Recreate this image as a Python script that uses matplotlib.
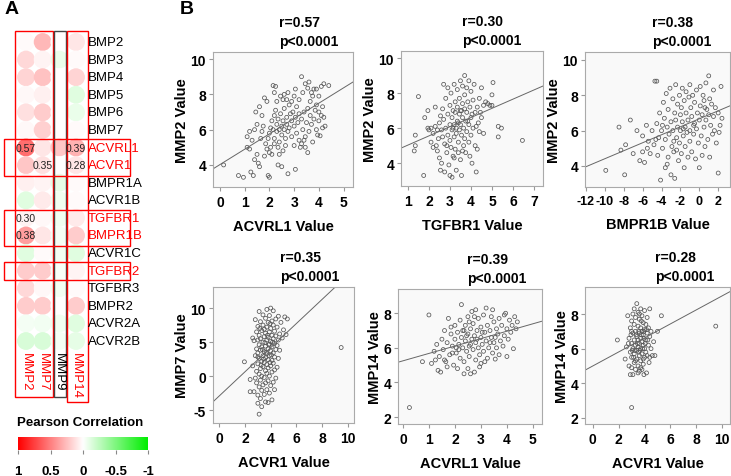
import numpy as np
import matplotlib
matplotlib.use("Agg")
import matplotlib.pyplot as plt
from matplotlib.colors import LinearSegmentedColormap
from matplotlib.patches import Rectangle

plt.rcParams['font.family'] = ['Liberation Sans', 'DejaVu Sans']
plt.rcParams['font.weight'] = 'bold'
plt.rcParams['axes.labelweight'] = 'bold'
plt.rcParams['axes.unicode_minus'] = False

# ---------------- panel A data ----------------
genes = ['BMP2', 'BMP3', 'BMP4', 'BMP5', 'BMP6', 'BMP7', 'ACVRL1', 'ACVR1',
         'BMPR1A', 'ACVR1B', 'TGFBR1', 'BMPR1B', 'ACVR1C', 'TGFBR2', 'TGFBR3',
         'BMPR2', 'ACVR2A', 'ACVR2B']
red_genes = ['ACVRL1', 'ACVR1', 'TGFBR1', 'BMPR1B', 'TGFBR2']
mmps = ['MMP2', 'MMP7', 'MMP9', 'MMP14']
mmp_colors = ['red', 'red', 'black', 'red']
corr_mmp2 = [0.02, 0.15, 0.17, 0.03, 0.12, 0.03, 0.57, 0.22, 0.06, -0.12,
             0.05, 0.38, -0.12, 0.20, 0.15, 0.20, -0.04, -0.15]
corr_mmp7 = [0.28, 0.04, 0.24, 0.06, 0.20, 0.18, 0.10, 0.12, 0.04, 0.08,
             0.03, 0.10, 0.02, 0.20, 0.03, 0.20, -0.05, -0.15]
corr_mmp9 = [0.00, -0.08, 0.00, 0.00, 0.00, 0.00, 0.22, 0.00, -0.10, -0.06,
             -0.06, -0.04, -0.05, -0.03, -0.05, 0.00, -0.06, -0.04]
corr_mmp14 = [0.10, 0.02, 0.17, -0.12, -0.08, 0.02, 0.30, 0.10, 0.02, 0.02,
              0.08, 0.20, -0.12, 0.04, 0.02, 0.20, -0.12, -0.10]
# annotated values: (gene, mmp, text)
annot = [('ACVRL1', 'MMP2', '0.57'), ('ACVR1', 'MMP7', '0.35'),
         ('ACVRL1', 'MMP14', '0.39'), ('ACVR1', 'MMP14', '0.28'),
         ('TGFBR1', 'MMP2', '0.30'), ('BMPR1B', 'MMP2', '0.38')]

# ---------------- panel B data ----------------
p1_x = [0.15, 0.75, 0.95, 1.25, 1.35, 1.6, 1.55, 1.4, 1.95, 2.0, 2.35, 2.75, 3.05, 2.5, 1.8, 1.5, 1.2, 1.1,
        1.1, 1.2, 1.3, 1.4, 1.5, 1.45, 1.6, 1.7, 1.8, 1.9, 1.65, 1.7, 1.75, 1.85, 1.9, 1.95, 2.0, 2.05, 2.1,
        2.0, 2.05, 2.1, 2.15, 2.2, 2.2, 2.25, 2.3, 2.3, 2.35, 2.4, 2.4, 2.45, 2.5, 2.5, 2.55, 2.6, 2.6, 2.65,
        2.7, 2.7, 2.75, 2.8, 2.8, 2.85, 2.9, 2.9, 2.95, 3.0, 3.0, 3.05, 3.1, 3.1, 3.15, 3.2, 3.2, 2.2, 2.35,
        2.55, 2.65, 2.4,
        2.15, 2.25, 2.2, 2.3, 2.45, 2.55, 2.6, 2.75, 2.7, 2.9, 3.0, 3.05, 3.2, 3.3, 3.35, 3.45, 3.6, 3.55,
        3.7, 3.8, 3.9, 4.0, 4.2, 4.4, 4.1, 3.65, 3.75, 3.9, 4.0, 4.15,
        3.3, 3.35, 3.4, 3.45, 3.5, 3.55, 3.6, 3.65, 3.7, 3.75, 3.8, 3.85, 3.9, 3.95, 4.0, 4.05, 4.1, 4.15,
        4.2, 4.25, 3.3, 3.45, 3.55, 3.4, 3.25]
p1_y = [4.0, 3.4, 3.3, 3.6, 3.4, 3.9, 4.1, 4.3, 3.4, 3.3, 4.0, 3.5, 3.75, 3.9, 4.5, 4.6, 4.9, 5.0,
        5.6, 5.9, 5.4, 6.0, 6.3, 7.0, 7.3, 6.8, 7.8, 7.6, 5.5, 5.9, 6.2, 5.2, 4.9, 5.5, 4.7, 5.0, 4.6,
        5.8, 6.1, 6.5, 6.0, 5.5, 6.8, 7.1, 6.3, 5.9, 6.6, 6.0, 5.3, 6.9, 6.2, 5.7, 6.5, 7.2, 6.0, 5.5,
        6.7, 6.3, 5.9, 7.4, 6.1, 6.9, 5.6, 6.5, 7.0, 6.2, 5.1, 6.7, 5.8, 7.3, 6.4, 5.4, 6.9, 5.2, 5.0,
        4.8, 5.1, 4.6,
        8.5, 8.45, 8.1, 7.6, 7.9, 7.7, 8.0, 8.1, 7.7, 7.6, 7.9, 8.3, 7.7, 9.0, 8.1, 8.6, 8.7, 8.35,
        8.1, 8.3, 8.3, 7.9, 8.6, 8.5, 8.45, 7.6, 7.9, 7.4, 7.0, 7.3,
        6.6, 6.0, 7.0, 5.6, 6.4, 7.2, 5.9, 6.8, 6.3, 5.3, 6.6, 7.1, 6.0, 5.7, 6.5, 5.65, 6.8, 6.1,
        6.7, 6.2, 5.2, 5.0, 4.7, 5.4, 5.0]

p2_x = [1.3, 1.35, 1.35, 1.5, 1.75, 1.8, 1.95, 1.95, 2.0, 2.1, 2.2, 2.3, 2.35, 2.4, 2.45, 2.5, 2.5, 2.55,
        2.6, 2.6, 2.65, 2.7, 2.7, 2.75, 2.75, 2.8, 2.8, 2.85, 2.9, 2.9, 2.9, 2.95, 3.0, 3.0, 3.0, 3.0,
        3.05, 3.05, 3.1, 3.1, 3.1, 3.15, 3.15, 3.2, 3.2, 3.2, 3.25, 3.25, 3.25, 3.3, 3.3, 3.3, 3.35, 3.35,
        3.35, 3.4, 3.4, 3.45, 3.45, 3.45, 3.5, 3.5, 3.5, 3.5, 3.55, 3.55, 3.6, 3.6, 3.6, 3.65, 3.65, 3.7,
        3.7, 3.7, 3.7, 3.75, 3.75, 3.8, 3.8, 3.8, 3.85, 3.9, 3.9, 3.9, 3.95, 3.95, 4.0, 4.0, 4.0, 4.05,
        4.1, 4.1, 4.15, 4.2, 4.2, 4.25, 4.3, 4.3, 4.35, 4.4, 4.4, 4.5, 4.5, 4.6, 4.6, 4.7, 4.8, 4.9, 5.0,
        5.05, 5.0, 5.3, 5.3, 5.45, 6.45, 2.2, 2.4, 2.55, 2.65, 2.85, 3.15, 3.4, 3.55, 3.85, 4.05, 4.25,
        4.45, 2.1, 2.3, 3.2, 3.6]
p2_y = [4.7, 5.0, 5.6, 7.8, 3.3, 6.6, 7.0, 6.0, 5.9, 5.2, 5.7, 6.1, 5.0, 4.7, 5.4, 6.3, 4.3, 3.6,
        4.0, 5.9, 7.1, 8.5, 6.5, 5.1, 3.5, 7.7, 6.0, 4.6, 8.3, 6.8, 5.6, 3.9, 7.3, 6.2, 5.3, 3.3,
        8.0, 4.9, 6.6, 5.9, 3.2, 7.0, 4.4, 8.5, 6.2, 5.5, 7.5, 6.9, 4.8, 6.0, 5.7, 3.6, 8.2, 7.2,
        6.4, 5.2, 4.6, 7.7, 6.8, 5.9, 8.7, 7.0, 6.2, 4.2, 5.6, 3.3, 8.4, 7.4, 6.6, 6.0, 5.0, 9.0,
        7.9, 7.1, 5.4, 6.4, 4.6, 8.3, 6.9, 5.8, 7.5, 8.7, 6.2, 5.2, 7.2, 4.4, 8.1, 6.6, 5.6, 4.0,
        7.6, 6.0, 8.5, 6.9, 5.0, 3.5, 7.2, 4.8, 6.3, 7.7, 5.8, 8.3, 6.6, 7.3, 5.7, 7.5, 7.4, 7.3, 7.9,
        8.6, 7.3, 6.1, 5.5, 6.0, 5.3, 4.9, 5.9, 6.7, 5.5, 5.0, 6.0, 6.3, 7.0, 6.4, 6.8, 6.1,
        6.9, 6.0, 7.2, 4.3, 4.7]

p3_x = [-9.9, -8.5, -8.3, -7.8, -7.9, -7.3, -7.0, -6.6, -6.3, -6.0, -5.8, -5.6, -5.4, -5.2, -5.0, -4.8,
        -4.7, -4.5, -4.5, -4.4, -4.3, -4.2, -4.1, -4.0, -3.9, -3.8, -3.7, -3.6, -3.6, -3.5, -3.4, -3.3,
        -3.3, -3.2, -3.1, -3.0, -3.0, -2.9, -2.8, -2.8, -2.7, -2.6, -2.6, -2.5, -2.5, -2.4, -2.3, -2.3,
        -2.2, -2.1, -2.1, -2.0, -2.0, -1.9, -1.9, -1.8, -1.8, -1.7, -1.6, -1.6, -1.5, -1.5, -1.4, -1.4,
        -1.3, -1.2, -1.2, -1.1, -1.0, -1.0, -1.0, -0.9, -0.8, -0.8, -0.7, -0.6, -0.5, -0.5, -0.4, -0.3,
        -0.3, -0.2, -0.1, 0.0, 0.0, 0.1, 0.1, 0.2, 0.3, 0.3, 0.4, 0.5, 0.5, 0.6, 0.7, 0.7, 0.8, 0.9,
        1.0, 1.0, 1.1, 1.1, 1.2, 1.3, 1.4, 1.5, 1.5, 1.6, 1.7, 1.8, 2.0, 2.0, 2.1, 2.3, 2.4, 2.2,
        -6.0, -5.5, -4.6, -3.9, -2.7, -1.7, -0.6, 0.6, -3.4, -2.4]
p3_y = [3.75, 6.2, 4.9, 5.2, 3.5, 6.6, 4.7, 6.0, 4.3, 5.7, 4.2, 6.3, 5.4, 4.7, 6.0, 5.2,
        8.8, 8.8, 6.4, 4.6, 5.6, 7.0, 3.2, 6.0, 5.0, 7.6, 6.7, 3.9, 5.5, 8.1, 6.2, 4.5,
        7.2, 5.8, 8.4, 6.5, 3.5, 5.1, 7.8, 6.0, 4.8, 7.0, 3.3, 8.6, 6.6, 5.6, 7.5, 6.2,
        4.3, 8.0, 5.3, 6.9, 6.0, 7.3, 4.7, 8.4, 6.5, 5.7, 7.7, 3.9, 6.2, 5.1, 8.2, 7.0,
        5.9, 6.6, 4.5, 7.9, 8.6, 6.0, 5.4, 7.3, 4.8, 6.8, 8.0, 5.8, 6.4, 7.6, 4.4, 8.3,
        6.1, 7.0, 5.3, 3.9, 6.6, 8.5, 7.4, 5.7, 6.9, 4.6, 8.0, 6.2, 7.7, 5.1, 8.7, 6.6, 7.2, 5.5,
        9.1, 6.9, 7.8, 4.5, 6.3, 7.5, 5.8, 8.3, 6.8, 6.0, 7.3, 5.3, 3.6, 7.0, 5.9, 8.5, 6.7, 6.3,
        4.8, 5.0, 5.5, 6.3, 5.4, 6.1, 6.3, 7.3, 4.1, 4.9]

p4_x = [1.95, 9.5, 2.4, 2.4, 2.6, 2.7, 2.7, 2.8, 2.8, 2.9, 2.9, 2.9, 2.9, 3.0, 3.0, 3.0, 3.0, 3.0, 3.0,
        3.1, 3.1, 3.1, 3.1, 3.1, 3.1, 3.1, 3.2, 3.2, 3.2, 3.2, 3.2, 3.2, 3.3, 3.3, 3.3, 3.3, 3.3, 3.3,
        3.4, 3.4, 3.4, 3.4, 3.4, 3.4, 3.5, 3.5, 3.5, 3.5, 3.5, 3.5, 3.6, 3.6, 3.6, 3.6, 3.6, 3.6, 3.6,
        3.7, 3.7, 3.7, 3.7, 3.7, 3.7, 3.7, 3.8, 3.8, 3.8, 3.8, 3.8, 3.8, 3.8, 3.9, 3.9, 3.9, 3.9, 3.9,
        3.9, 4.0, 4.0, 4.0, 4.0, 4.0, 4.0, 4.1, 4.1, 4.1, 4.1, 4.1, 4.1, 4.2, 4.2, 4.2, 4.2, 4.2, 4.2,
        4.3, 4.3, 4.3, 4.3, 4.3, 4.4, 4.4, 4.4, 4.4, 4.5, 4.5, 4.5, 4.6, 4.6, 4.6, 4.7, 4.7, 4.8, 4.9,
        5.0, 5.1, 5.3, 5.2, 3.35, 3.55, 3.75, 3.95, 4.05, 3.45, 3.65, 3.85, 4.15, 3.25, 3.15, 3.95, 2.8,
        3.0, 2.6]
p4_y = [2.1, 4.2, -0.5, -2.3, 1.5, -2.3, 5.2, 3.0, 8.3, -1.0, 0.7, 4.0, 6.5, -4.0, -2.8, 1.8, 3.4, 5.3, 7.3,
        -5.6, -1.6, 0.3, 2.6, 4.6, 6.0, 9.5, -3.3, -0.6, 1.1, 3.8, 5.5, 8.0, -2.1, 0.0, 2.2, 4.3, 6.7, -4.5,
        -1.3, 1.4, 3.0, 5.0, 7.5, 9.0, -2.7, -0.2, 2.0, 3.6, 5.8, 6.9, -3.8, -1.0, 0.8, 2.7, 4.4, 6.3, 8.5,
        -2.0, 0.4, 1.7, 3.3, 5.3, 7.2, 9.8, -3.9, -0.7, 1.2, 2.4, 4.0, 5.7, 7.9, -2.5, 0.0, 3.0, 4.7, 6.5,
        8.9, -1.4, 1.5, 3.7, 5.1, 7.0, 10.0, -3.5, 0.6, 2.3, 4.3, 6.0, 8.1, -0.9, 1.9, 3.4, 5.5, 7.5, 9.6,
        -2.0, 0.9, 2.8, 4.8, 6.6, -0.3, 3.9, 5.9, 8.4, 1.3, 4.5, 7.2, 2.6, 5.3, 8.8, 6.2, 3.8, 7.9, 5.6,
        6.8, 8.7, 8.4, 6.1, 3.9, 4.9, 6.0, 2.0, 3.1, 2.5, 3.5, 4.6, 5.0, 1.6, 7.0, 7.7, -0.3,
        2.8, 5.6]

p5_x = [0.25, 1.0, 0.75, 1.1, 1.2, 1.3, 1.35, 1.45, 1.4, 1.5, 1.55, 1.6, 1.65, 1.7, 1.75, 1.8, 1.85, 1.9,
        1.95, 2.0, 2.0, 2.05, 2.1, 2.1, 2.15, 2.2, 2.2, 2.25, 2.25, 2.3, 2.3, 2.35, 2.35, 2.4, 2.4, 2.45,
        2.5, 2.5, 2.5, 2.55, 2.55, 2.6, 2.6, 2.65, 2.65, 2.7, 2.7, 2.75, 2.75, 2.8, 2.8, 2.8, 2.85, 2.9,
        2.9, 2.95, 3.0, 3.0, 3.0, 3.05, 3.1, 3.1, 3.15, 3.2, 3.2, 3.25, 3.25, 3.3, 3.35, 3.4, 3.45, 3.45,
        3.5, 3.5, 3.55, 3.6, 3.6, 3.65, 3.7, 3.75, 3.8, 3.85, 3.9, 3.9, 3.95, 4.0, 4.0, 4.05, 4.1, 4.15,
        4.2, 4.25, 4.3, 4.35, 4.4, 1.6, 1.9, 2.15, 2.45, 2.6, 2.85, 3.05, 3.35, 3.55, 1.25, 1.7, 2.05,
        2.35, 2.75, 3.15, 3.7, 2.55, 1.85, 2.95, 3.4]
p5_y = [2.55, 7.9, 5.2, 5.1, 5.8, 6.2, 4.7, 4.6, 5.5, 6.5, 5.9, 7.0, 5.2, 6.3, 7.7, 5.6, 6.8, 6.1,
        5.0, 7.3, 6.5, 5.7, 6.9, 4.8, 6.2, 7.6, 5.4, 8.5, 6.6, 7.0, 6.0, 4.5, 5.2, 7.3, 6.4, 5.8,
        7.8, 6.8, 4.8, 6.1, 5.5, 7.1, 4.5, 6.5, 8.1, 5.9, 7.4, 6.7, 4.6, 8.2, 6.3, 5.3, 7.0, 6.0,
        7.7, 5.6, 6.6, 7.2, 5.1, 6.2, 7.9, 5.8, 6.9, 8.3, 6.4, 7.3, 5.4, 6.0, 7.0, 6.6, 8.2, 5.7,
        7.5, 6.3, 5.35, 7.1, 6.0, 6.8, 7.7, 6.4, 7.3, 6.1, 7.9, 6.7, 8.0, 5.5, 7.1, 6.5, 7.6, 6.9,
        7.3, 5.95, 7.8, 7.1, 7.5, 5.3, 5.7, 5.9, 6.7, 6.2, 6.5, 6.9, 6.3, 6.6, 5.3, 4.9, 6.0,
        7.0, 7.8, 5.2, 5.6, 7.5, 7.2, 4.9, 7.8]

p6_x = [1.9, 9.5, 3.0, 2.5, 2.6, 2.7, 2.8, 2.8, 2.9, 2.9, 2.9, 3.0, 3.0, 3.0, 3.0, 3.1, 3.1, 3.1, 3.1,
        3.2, 3.2, 3.2, 3.2, 3.3, 3.3, 3.3, 3.3, 3.4, 3.4, 3.4, 3.4, 3.5, 3.5, 3.5, 3.5, 3.5, 3.6, 3.6,
        3.6, 3.6, 3.6, 3.7, 3.7, 3.7, 3.7, 3.7, 3.8, 3.8, 3.8, 3.8, 3.8, 3.9, 3.9, 3.9, 3.9, 3.95, 4.0,
        4.0, 4.0, 4.0, 4.1, 4.1, 4.1, 4.15, 4.2, 4.2, 4.2, 4.3, 4.3, 4.4, 4.4, 4.4, 4.5, 4.5, 4.6, 4.7,
        4.8, 5.0, 5.3, 3.25, 3.45, 3.55, 3.65, 3.75, 3.85, 3.95, 4.05, 4.25, 3.15, 3.35, 3.55, 3.75,
        3.95, 4.15, 2.95, 3.05, 3.3, 3.5, 3.7, 3.9, 4.35, 2.75, 3.0, 3.6, 3.2]
p6_y = [6.5, 7.3, 2.6, 5.4, 6.1, 7.9, 5.0, 6.6, 4.5, 5.8, 7.2, 4.9, 6.3, 7.6, 5.5, 4.5, 6.0, 6.9, 8.0,
        5.2, 5.7, 6.5, 7.4, 4.8, 6.2, 7.0, 7.8, 5.4, 5.9, 6.7, 8.6, 5.0, 6.1, 6.5, 7.3, 8.1, 4.7, 5.6,
        6.3, 6.9, 7.7, 5.3, 6.0, 6.6, 7.2, 8.3, 4.8, 5.7, 6.4, 7.0, 7.9, 5.1, 6.2, 6.8, 7.5, 4.5, 5.5,
        6.0, 7.1, 8.2, 5.8, 6.5, 7.4, 4.6, 5.6, 6.9, 7.8, 6.2, 7.2, 5.5, 6.7, 8.3, 6.0, 7.0, 5.6, 6.4,
        5.6, 7.0, 7.9, 5.9, 6.3, 7.0, 5.9, 6.8, 6.0, 6.6, 6.3, 6.5, 5.5, 6.8, 5.8, 7.6,
        7.0, 7.1, 6.8, 5.9, 5.3, 4.6, 4.9, 5.4, 5.2, 6.3, 7.0, 8.0, 8.3]

# fitted lines: intercept, slope
fit_b = [4.02, 4.51, 6.67, -2.9, 5.25, 5.0]
fit_m = [0.87, 0.524, 0.226, 1.77, 0.428, 0.405]
r_vals = ['0.57', '0.30', '0.38', '0.35', '0.39', '0.28']
x_labels = ['ACVRL1 Value', 'TGFBR1 Value', 'BMPR1B Value', 'ACVR1 Value', 'ACVRL1 Value', 'ACVR1 Value']
y_labels = ['MMP2 Value', 'MMP2 Value', 'MMP2 Value', 'MMP7 Value', 'MMP14 Value', 'MMP14 Value']
xs = [p1_x, p2_x, p3_x, p4_x, p5_x, p6_x]
ys = [p1_y, p2_y, p3_y, p4_y, p5_y, p6_y]

W, H = 731, 477
fig = plt.figure(figsize=(W / 100, H / 100), dpi=100)


def px_axes(l, t, r, b):
    return fig.add_axes([l / W, 1 - b / H, (r - l) / W, (b - t) / H])


# ---------------- panel A ----------------
cmap = LinearSegmentedColormap.from_list('rwg', ['#00ee00', '#ffffff', '#ff0000'])
axh = px_axes(17.65, 34.2, 84.35, 350.8)
axh.set_xlim(-0.5, 3.5)
axh.set_ylim(17.5, -0.5)
axh.axis('off')
corr = np.array([corr_mmp2, corr_mmp7, corr_mmp9, corr_mmp14]).T
cc, rr = np.meshgrid(np.arange(len(mmps)), np.arange(len(genes)))
axh.scatter(cc.ravel(), rr.ravel(), s=165, c=corr.ravel(), cmap=cmap,
            vmin=-1, vmax=1, linewidths=0, clip_on=False)
for g, m, t in annot:
    axh.text(mmps.index(m), genes.index(g), t, ha='center', va='center',
             fontsize=7.5, fontweight='normal', color='#222222')
for i, g in enumerate(genes):
    axh.text(3.72, i, g, ha='left', va='center', fontsize=9.5, fontweight='normal',
             color='red' if g in red_genes else 'black', clip_on=False)
for j, m in enumerate(mmps):
    axh.text(j, 17.6, m, ha='center', va='top', rotation=-90, fontsize=9.5,
             fontweight='normal', color=mmp_colors[j], clip_on=False)
boxes = [(-0.66, -0.62, 1.62, 20.2, 'red'), (1.68, -0.62, 2.4, 20.2, '#444444'),
         (2.46, -0.62, 3.72, 20.45, 'red'),
         (-1.32, 5.5, 6.25, 7.6, 'red'), (-1.32, 9.55, 6.25, 11.6, 'red'),
         (-1.32, 12.5, 6.25, 13.53, 'red')]
for x0, y0, x1, y1, col in boxes:
    axh.add_patch(Rectangle((x0, y0), x1 - x0, y1 - y0, fill=False, ec=col,
                            lw=1.0, clip_on=False))

fig.text(17 / W, 1 - 423 / H, 'Pearson Correlation', ha='left', va='center', fontsize=9.5)
axc = px_axes(18, 438, 148, 451)
grad = np.linspace(1, -1, 256)[None, :]
axc.imshow(grad, aspect='auto', cmap=cmap, vmin=-1, vmax=1, extent=[1, -1, 0, 1])
axc.set_xlim(1, -1)
axc.set_yticks([])
axc.set_xticks([1, 0.5, 0, -0.5, -1])
axc.set_xticklabels(['1', '0.5', '0', '-0.5', '-1'], fontsize=9.5, fontweight='bold')
axc.tick_params(axis='x', length=3, pad=8, color='#888888')
for s in axc.spines.values():
    s.set_visible(False)

fig.text(5 / W, 1 - 10 / H, 'A', fontsize=14, fontweight='bold', ha='left', va='center')
fig.text(180 / W, 1 - 10 / H, 'B', fontsize=14, fontweight='bold', ha='left', va='center')

# ---------------- panel B ----------------
rects = [(213, 53, 353, 188), (401, 52, 543, 187), (585, 53, 730, 188),
         (213, 288, 354, 424), (398, 290, 542, 425), (585, 288, 730, 425)]
xlims = [(-0.28, 5.38), (0.67, 7.43), (-12.1, 3.25), (-0.5, 10.5), (-0.19, 5.35), (-0.6, 10.6)]
ylims = [(2.75, 10.4), (2.7, 10.4), (2.81, 10.45), (-6.9, 13.1), (1.6, 9.4), (1.65, 9.56)]
xticks = [range(0, 6), range(1, 8), range(-12, 3, 2), range(0, 11, 2), range(0, 6), range(0, 11, 2)]
yticks = [[4, 6, 8, 10], [4, 6, 8, 10], [4, 6, 8, 10], [-5, 0, 5, 10], [2, 4, 6, 8], [2, 4, 6, 8]]
xtick_size = [10, 10, 9, 10, 10, 10]
title_x = [0.47, 0.43, 0.46, 0.475, 0.48, 0.48]

for k in range(6):
    ax = px_axes(*rects[k])
    ax.set_facecolor('#f9f9f9')
    ax.scatter(xs[k], ys[k], s=8, facecolors='none', edgecolors='#555555', linewidths=0.55)
    ax.axline((0, fit_b[k]), slope=fit_m[k], color='#666666', lw=0.7)
    ax.set_xlim(*xlims[k])
    ax.set_ylim(*ylims[k])
    ax.set_xticks(list(xticks[k]))
    ax.set_yticks(yticks[k])
    ax.tick_params(labelsize=10, length=3, color='#999999', pad=2)
    ax.tick_params(axis='x', labelsize=xtick_size[k], pad=3)
    for lab in ax.get_xticklabels() + ax.get_yticklabels():
        lab.set_fontweight('bold')
    for s in ax.spines.values():
        s.set_color('#aaaaaa')
        s.set_linewidth(0.8)
    ax.set_xlabel(x_labels[k], fontsize=10.5, fontweight='bold', labelpad=7)
    ax.set_ylabel(y_labels[k], fontsize=10.5, fontweight='bold', labelpad=1)
    ax.text(title_x[k], 1.03, 'r=' + r_vals[k] + '\np<0.0001', transform=ax.transAxes,
            ha='left', va='bottom', fontsize=10, fontweight='bold', linespacing=1.45)

fig.savefig('out.png', dpi=100)
